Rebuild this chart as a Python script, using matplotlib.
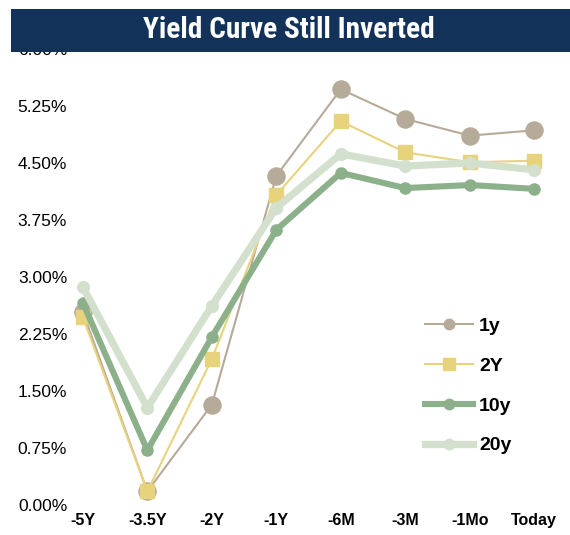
import matplotlib
matplotlib.use("Agg")
import matplotlib.pyplot as plt
from matplotlib.patches import Rectangle
from matplotlib.lines import Line2D
from matplotlib import font_manager as fm

categories = ["-5Y", "-3.5Y", "-2Y", "-1Y", "-6M", "-3M", "-1Mo", "Today"]
y1 = [2.54, 0.18, 1.32, 4.33, 5.47, 5.08, 4.86, 4.93]
y2 = [2.47, 0.18, 1.92, 4.08, 5.05, 4.64, 4.51, 4.53]
y10 = [2.66, 0.72, 2.21, 3.62, 4.37, 4.17, 4.21, 4.16]
y20 = [2.87, 1.28, 2.62, 3.91, 4.62, 4.46, 4.50, 4.41]
yticks = [0.0, 0.75, 1.5, 2.25, 3.0, 3.75, 4.5, 5.25, 6.0]
series_names = ["1y", "2Y", "10y", "20y"]
title = "Yield Curve Still Inverted"

c1, c2, c10, c20 = "#b6aa99", "#e8d37d", "#8bb08a", "#d3e0cd"


def pick_condensed_bold():
    prefs = ["LiberationSansNarrow-Bold", "RobotoCondensed-Bold", "Roboto_Condensed-Bold",
             "OpenSans_Condensed-Bold", "OpenSansCondensed-Bold", "DejaVuSansCondensed-Bold"]
    files = [f.fname for f in fm.fontManager.ttflist]
    for p in prefs:
        for fn in files:
            if p.lower() in fn.lower().replace(" ", ""):
                return fm.FontProperties(fname=fn)
    for fn in files:
        low = fn.lower()
        if ("narrow" in low or "condensed" in low) and "bold" in low and "italic" not in low and "oblique" not in low:
            return fm.FontProperties(fname=fn)
    return fm.FontProperties(family="Liberation Sans", weight="bold")


fig = plt.figure(figsize=(5.7, 5.35), dpi=100)
W, H = 570, 535
ax = fig.add_axes([70 / W, 30 / H, 490 / W, 456 / H])
x = list(range(len(categories)))

ax.plot(x, y1, color=c1, lw=1.5, marker="o", ms=12.3, zorder=2, clip_on=False)
ax.plot(x, y2, color=c2, lw=1.5, marker="s", ms=9.6, zorder=3, clip_on=False)
ax.plot(x, y10, color=c10, lw=4.4, marker="o", ms=8, zorder=4, clip_on=False)
ax.plot(x, y20, color=c20, lw=5.2, marker="o", ms=8.5, zorder=5, clip_on=False)

ax.set_xlim(-0.2, 7.4)
ax.set_ylim(0, 6.0)
ax.set_xticks(x)
ax.set_xticklabels(categories, fontfamily="Liberation Sans", fontweight="bold", fontsize=11.5)
ax.set_yticks(yticks)
ax.set_yticklabels([f"{v:.2f}%" for v in yticks], fontfamily="Liberation Sans", fontsize=12.5)
ax.tick_params(length=0, pad=2)
ax.tick_params(axis="x", pad=6)
for s in ax.spines.values():
    s.set_visible(False)

handles = [
    Line2D([], [], color=c1, lw=1.5, marker="o", ms=7.5),
    Line2D([], [], color=c2, lw=1.5, marker="s", ms=8.5),
    Line2D([], [], color=c10, lw=4.4, marker="o", ms=7.5),
    Line2D([], [], color=c20, lw=5.2, marker="o", ms=7.5),
]
ax.legend(handles, series_names, loc="upper left",
          bbox_to_anchor=(337 / 490, (505 - 300) / 456), frameon=False,
          handlelength=2.5, handletextpad=0.3, labelspacing=1.14,
          prop={"family": "Liberation Sans", "weight": "bold", "size": 14})

fig.add_artist(Rectangle((11 / W, (535 - 52) / H), 1 - 11 / W, 43 / H,
                         transform=fig.transFigure, facecolor="#13325a",
                         edgecolor="none", zorder=10))
tprop = pick_condensed_bold()
t = fig.text(289 / W, (535 - 30.5) / H, title, color="white", ha="center", va="center",
             fontproperties=tprop, fontsize=21, zorder=11)
renderer = fig.canvas.get_renderer()
w = t.get_window_extent(renderer).width
t.set_fontsize(21 * 292 / w)

fig.savefig("out.png", dpi=100)
